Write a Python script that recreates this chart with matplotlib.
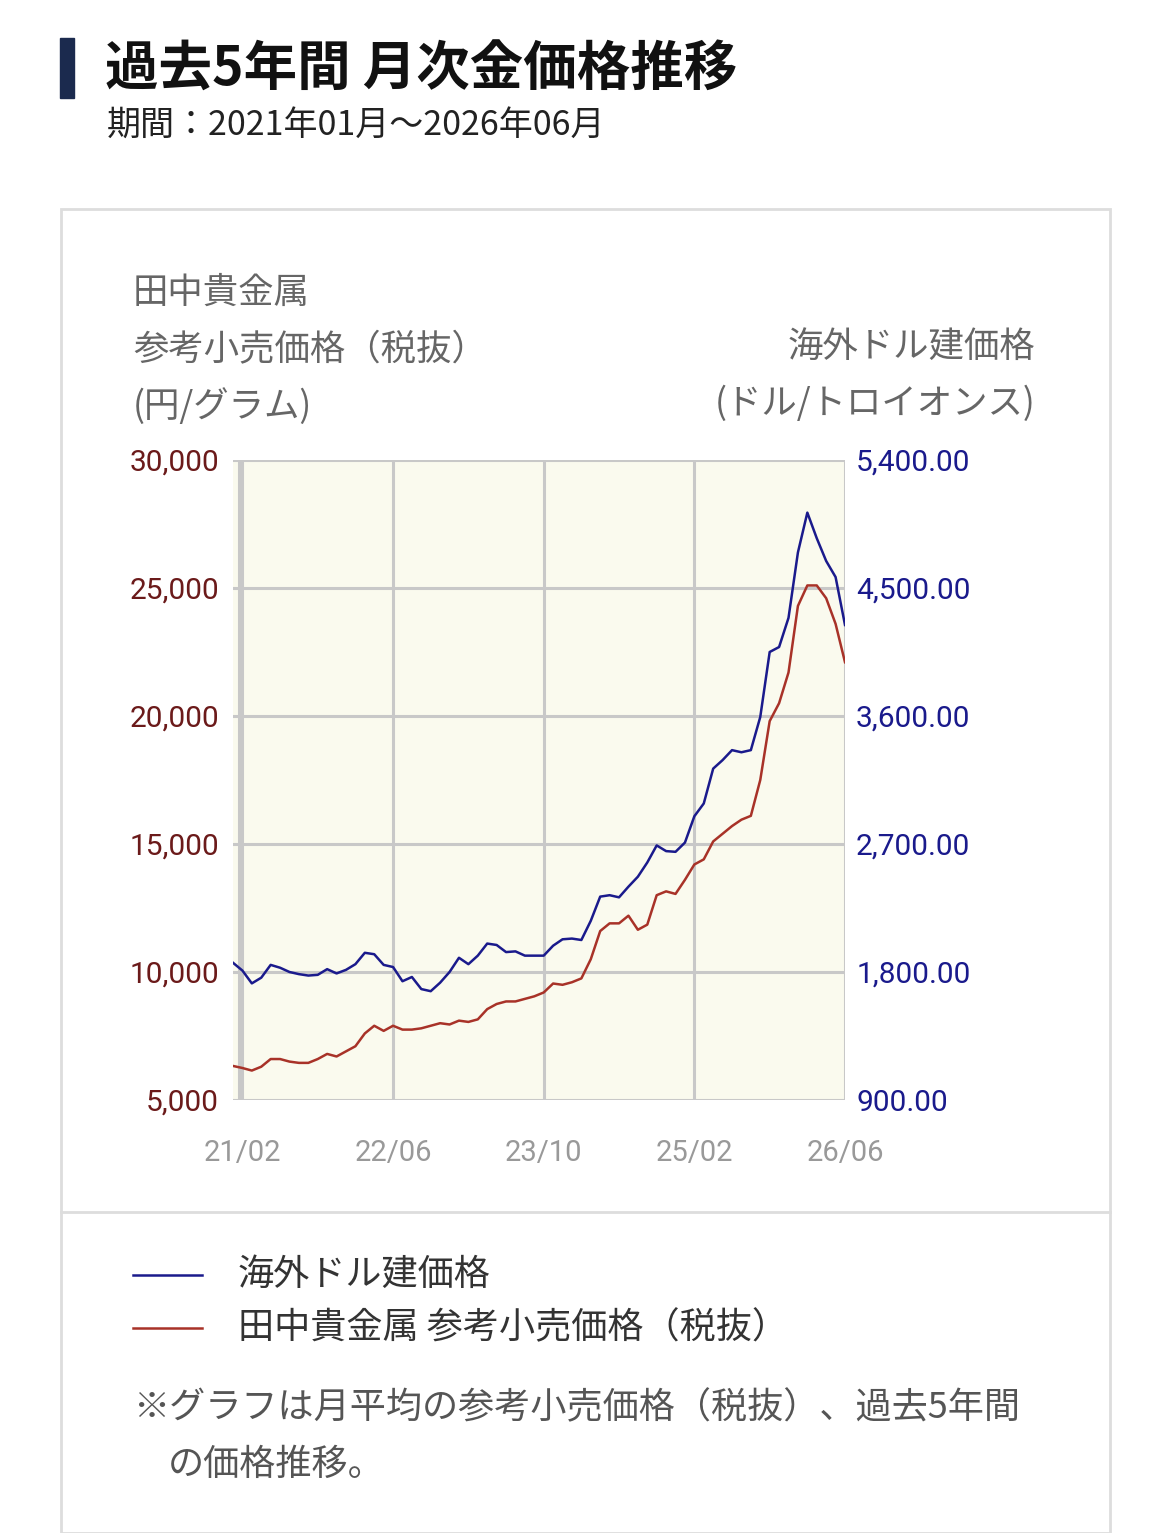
import matplotlib
matplotlib.use("Agg")
import matplotlib.pyplot as plt
from matplotlib.patches import Rectangle
from matplotlib.lines import Line2D

plt.rcParams['font.family'] = ['Noto Sans CJK JP', 'DejaVu Sans']

months = [f"{y%100:02d}/{m:02d}" for y in range(2021, 2027) for m in range(1, 13)][:66]
yen = [6330,6250,6150,6300,6600,6600,6500,6450,6450,6600,6800,6700,
       6900,7100,7600,7900,7700,7900,7750,7750,7800,7900,8000,7950,
       8100,8050,8150,8550,8750,8850,8850,8950,9050,9200,9550,9500,
       9600,9750,10500,11600,11900,11900,12200,11650,11850,13000,13150,13050,
       13600,14200,14400,15100,15400,15700,15950,16100,17500,19800,20500,21700,
       24300,25100,25100,24600,23600,22100]
usd = [1865,1810,1720,1760,1850,1830,1800,1785,1775,1780,1820,1790,
       1815,1855,1935,1925,1850,1835,1735,1765,1680,1665,1725,1800,
       1900,1855,1915,2000,1990,1940,1945,1915,1915,1915,1985,2030,
       2035,2025,2160,2330,2340,2325,2400,2470,2570,2690,2650,2645,
       2710,2895,2985,3230,3290,3360,3345,3360,3593,4050,4085,4290,
       4750,5030,4850,4690,4577,4240]
xtick_labels = ["21/02", "22/06", "23/10", "25/02", "26/06"]
yen_ticks = [5000, 10000, 15000, 20000, 25000, 30000]
usd_ticks = [900, 1800, 2700, 3600, 4500, 5400]

W, H = 1170, 1533
fig = plt.figure(figsize=(W/100, H/100), dpi=100)
fig.patch.set_facecolor('white')

def fx(x): return x / W
def fy(y): return 1 - y / H

# title bar
fig.patches.append(Rectangle((fx(60), fy(98)), fx(14), 60/H, transform=fig.transFigure,
                             color='#1b2a4e'))
fig.text(fx(105), fy(70), "過去5年間 月次金価格推移", fontsize=38.5, fontweight='bold',
         va='center', ha='left', color='#111111')
fig.text(fx(107), fy(125), "期間：2021年01月～2026年06月", fontsize=24.5,
         va='center', ha='left', color='#222222')

# box
fig.patches.append(Rectangle((fx(61), fy(1533)), fx(1049), (1533-209)/H, transform=fig.transFigure,
                             fill=False, edgecolor='#dddddd', linewidth=2))
fig.lines.append(Line2D([fx(61), fx(1110)], [fy(1212), fy(1212)], transform=fig.transFigure,
                        color='#dddddd', linewidth=2))

# axis titles
for i, t in enumerate(["田中貴金属", "参考小売価格（税抜）", "(円/グラム)"]):
    fig.text(fx(133), fy(293 + 57*i), t, fontsize=25.5, color='#666666', va='center', ha='left')
for i, t in enumerate(["海外ドル建価格", "(ドル/トロイオンス)"]):
    fig.text(fx(1035), fy(347 + 57*i), t, fontsize=25.5, color='#666666', va='center', ha='right')

ax = fig.add_axes([fx(233), fy(1100), (845-233)/W, 640/H])
ax.set_facecolor('#fafaee')
x = list(range(len(yen)))
ax.plot(x, yen, color='#a83228', linewidth=1.8, zorder=3)
ax.set_xlim(0, 65)
ax.set_ylim(5000, 30000)
ax.set_yticks(yen_ticks)
ax.set_yticklabels([f"{v:,}" for v in yen_ticks], color='#6b1a1a', fontsize=21.5,
                   family=['Roboto', 'DejaVu Sans'])
xt = [months.index(l) for l in xtick_labels]
ax.set_xticks(xt)
ax.set_xticklabels(xtick_labels, color='#999999', fontsize=21, family=['Roboto', 'DejaVu Sans'])
ax.grid(True, color='#c8c8c8', linewidth=2.2)
ax.tick_params(axis='y', length=0, pad=10)
ax.tick_params(axis='x', length=0, pad=28)
for s in ax.spines.values():
    s.set_visible(False)
ax.axvline(0.6, color='#c8c8c8', linewidth=2.2)

ax2 = ax.twinx()
ax2.plot(x, usd, color='#1a1a8c', linewidth=1.8, zorder=4)
ax2.set_ylim(900, 5400)
ax2.set_yticks(usd_ticks)
ax2.set_yticklabels([f"{v:,.2f}" for v in usd_ticks], color='#1a1a8c', fontsize=21.5,
                    family=['Roboto', 'DejaVu Sans'])
ax2.tick_params(length=0, pad=8)
for s in ax2.spines.values():
    s.set_visible(False)

# legend
fig.lines.append(Line2D([fx(133), fx(202)], [fy(1275), fy(1275)], transform=fig.transFigure,
                        color='#1a1a8c', linewidth=1.8))
fig.text(fx(238), fy(1275), "海外ドル建価格", fontsize=26, color='#333333', va='center')
fig.lines.append(Line2D([fx(133), fx(202)], [fy(1328), fy(1328)], transform=fig.transFigure,
                        color='#a83228', linewidth=1.8))
fig.text(fx(238), fy(1328), "田中貴金属 参考小売価格（税抜）", fontsize=26, color='#333333', va='center')

fig.text(fx(133), fy(1408), "※グラフは月平均の参考小売価格（税抜）、過去5年間", fontsize=26,
         color='#555555', va='center')
fig.text(fx(168), fy(1465), "の価格推移。", fontsize=26, color='#555555', va='center')

fig.savefig("out.png", dpi=100)
